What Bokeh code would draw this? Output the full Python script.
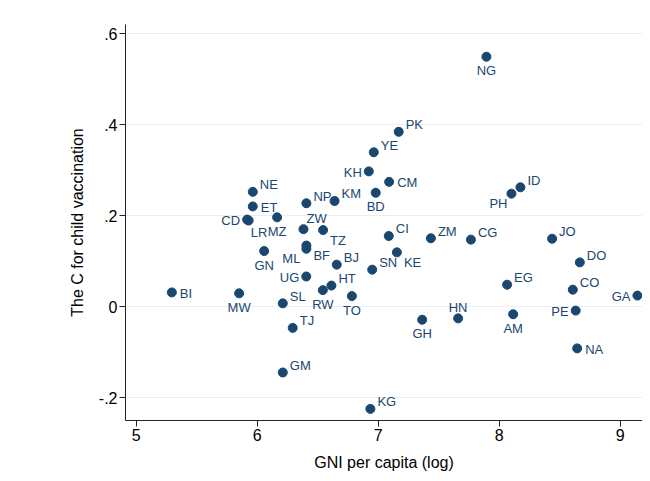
from bokeh.plotting import figure
from bokeh.models import ColumnDataSource, FixedTicker, Range1d
from bokeh.embed import file_html
from bokeh.resources import INLINE
from bokeh.core.properties import value

# ---- data ----
codes = ["NG", "PK", "YE", "KH", "CM", "BD", "KM", "NP", "NE", "ET",
         "CD", "LR", "MZ", "ZW", "TZ", "BF", "ML", "GN", "UG", "BJ",
         "HT", "RW", "TO", "SN", "CI", "KE", "ZM", "CG", "JO", "DO",
         "EG", "CO", "GA", "PE", "AM", "HN", "GH", "NA", "BI", "MW",
         "SL", "TJ", "GM", "KG", "ID", "PH"]
gni_log = [7.895, 7.170, 6.964, 6.923, 7.091, 6.980, 6.640, 6.407, 5.964, 5.964,
           5.917, 5.930, 6.165, 6.383, 6.545, 6.407, 6.407, 6.058, 6.406, 6.658,
           6.614, 6.543, 6.783, 6.951, 7.088, 7.155, 7.436, 7.767, 8.438, 8.667,
           8.066, 8.609, 9.143, 8.633, 8.116, 7.661, 7.364, 8.645, 5.295, 5.851,
           6.212, 6.294, 6.212, 6.936, 8.176, 8.102]
c_index = [0.549, 0.384, 0.339, 0.297, 0.274, 0.250, 0.232, 0.227, 0.252, 0.220,
           0.191, 0.189, 0.196, 0.170, 0.168, 0.134, 0.127, 0.122, 0.066, 0.092,
           0.046, 0.036, 0.023, 0.081, 0.155, 0.119, 0.150, 0.147, 0.149, 0.097,
           0.048, 0.037, 0.024, -0.009, -0.017, -0.026, -0.029, -0.092, 0.031, 0.029,
           0.007, -0.047, -0.145, -0.225, 0.262, 0.248]
x_ticks = [5, 6, 7, 8, 9]
y_ticks = [-0.2, 0.0, 0.2, 0.4, 0.6]
y_tick_labels = ["-.2", "0", ".2", ".4", ".6"]

# ---- styling: label clock positions (Stata-like) ----
label_clock = {
    "NG": 6, "PK": 2, "YE": 2, "KH": 9, "CM": 3, "BD": 6, "KM": 2, "NP": 2,
    "NE": 2, "ET": 3, "CD": 9, "LR": 5, "MZ": 6, "ZW": 1, "TZ": 4, "BF": 4,
    "ML": 8, "GN": 6, "UG": 9, "BJ": 2, "HT": 2, "RW": 6, "TO": 6, "SN": 2,
    "CI": 2, "KE": 4, "ZM": 2, "CG": 2, "JO": 2, "DO": 2, "EG": 2, "CO": 2,
    "GA": 9, "PE": 9, "AM": 6, "HN": 12, "GH": 6, "NA": 3, "BI": 3, "MW": 6,
    "SL": 2, "TJ": 2, "GM": 2, "KG": 2, "ID": 2, "PH": 7,
}
clock_style = {
    1: ("left", 3, -11),
    2: ("left", 7, -7),
    3: ("left", 8, 1),
    4: ("left", 7, 10),
    5: ("left", 2, 12),
    6: ("center", 0, 14),
    7: ("right", -4, 10),
    8: ("right", -6, 10),
    9: ("right", -7, 1),
    12: ("center", 0, -11),
}

NAVY = "#1a476f"
FONT = "Liberation Sans"

p = figure(width=642, height=473, output_backend="svg", toolbar_location=None,
           x_range=Range1d(4.912, 9.185), y_range=Range1d(-0.2505, 0.6198),
           min_border_left=125, min_border_top=24, min_border_right=0,
           min_border_bottom=53)
p.outline_line_color = None
p.background_fill_color = "white"
p.border_fill_color = "white"

src = ColumnDataSource(dict(x=gni_log, y=c_index, code=codes))
p.scatter("x", "y", source=src, size=9, color=NAVY, line_color=NAVY)

for clock, (align, dx, dy) in clock_style.items():
    idx = [i for i, c in enumerate(codes) if label_clock[c] == clock]
    if not idx:
        continue
    s = ColumnDataSource(dict(x=[gni_log[i] for i in idx],
                              y=[c_index[i] for i in idx],
                              t=[codes[i] for i in idx]))
    p.text("x", "y", text="t", source=s, text_align=align,
           text_baseline="middle", x_offset=dx, y_offset=dy,
           text_font=value(FONT), text_font_size="13px", text_color=NAVY)

# axes
p.xaxis.ticker = FixedTicker(ticks=x_ticks)
p.yaxis.ticker = FixedTicker(ticks=y_ticks)
p.yaxis.major_label_overrides = {t: l for t, l in zip(y_ticks, y_tick_labels)}
p.xaxis.axis_label = "GNI per capita (log)"
p.yaxis.axis_label = "The C for child vaccination"
for ax in (p.xaxis[0], p.yaxis[0]):
    ax.major_tick_in = 0
    ax.major_tick_out = 6
    ax.minor_tick_line_color = None
    ax.axis_line_color = "#222222"
    ax.major_tick_line_color = "#222222"
    ax.major_label_text_font = FONT
    ax.major_label_text_font_size = "16px"
    ax.major_label_text_color = "black"
    ax.axis_label_text_font = FONT
    ax.axis_label_text_font_size = "16px"
    ax.axis_label_text_font_style = "normal"
    ax.axis_label_text_color = "black"
p.yaxis.major_label_orientation = "horizontal"
p.yaxis.major_label_standoff = 2
p.yaxis.axis_label_standoff = 10
p.xaxis.major_label_standoff = 2
p.xaxis.axis_label_standoff = 10

p.xgrid.grid_line_color = None
p.ygrid.grid_line_color = "#e8eef1"
p.ygrid.grid_line_width = 1

open("out.html", "w").write(file_html(p, INLINE))
